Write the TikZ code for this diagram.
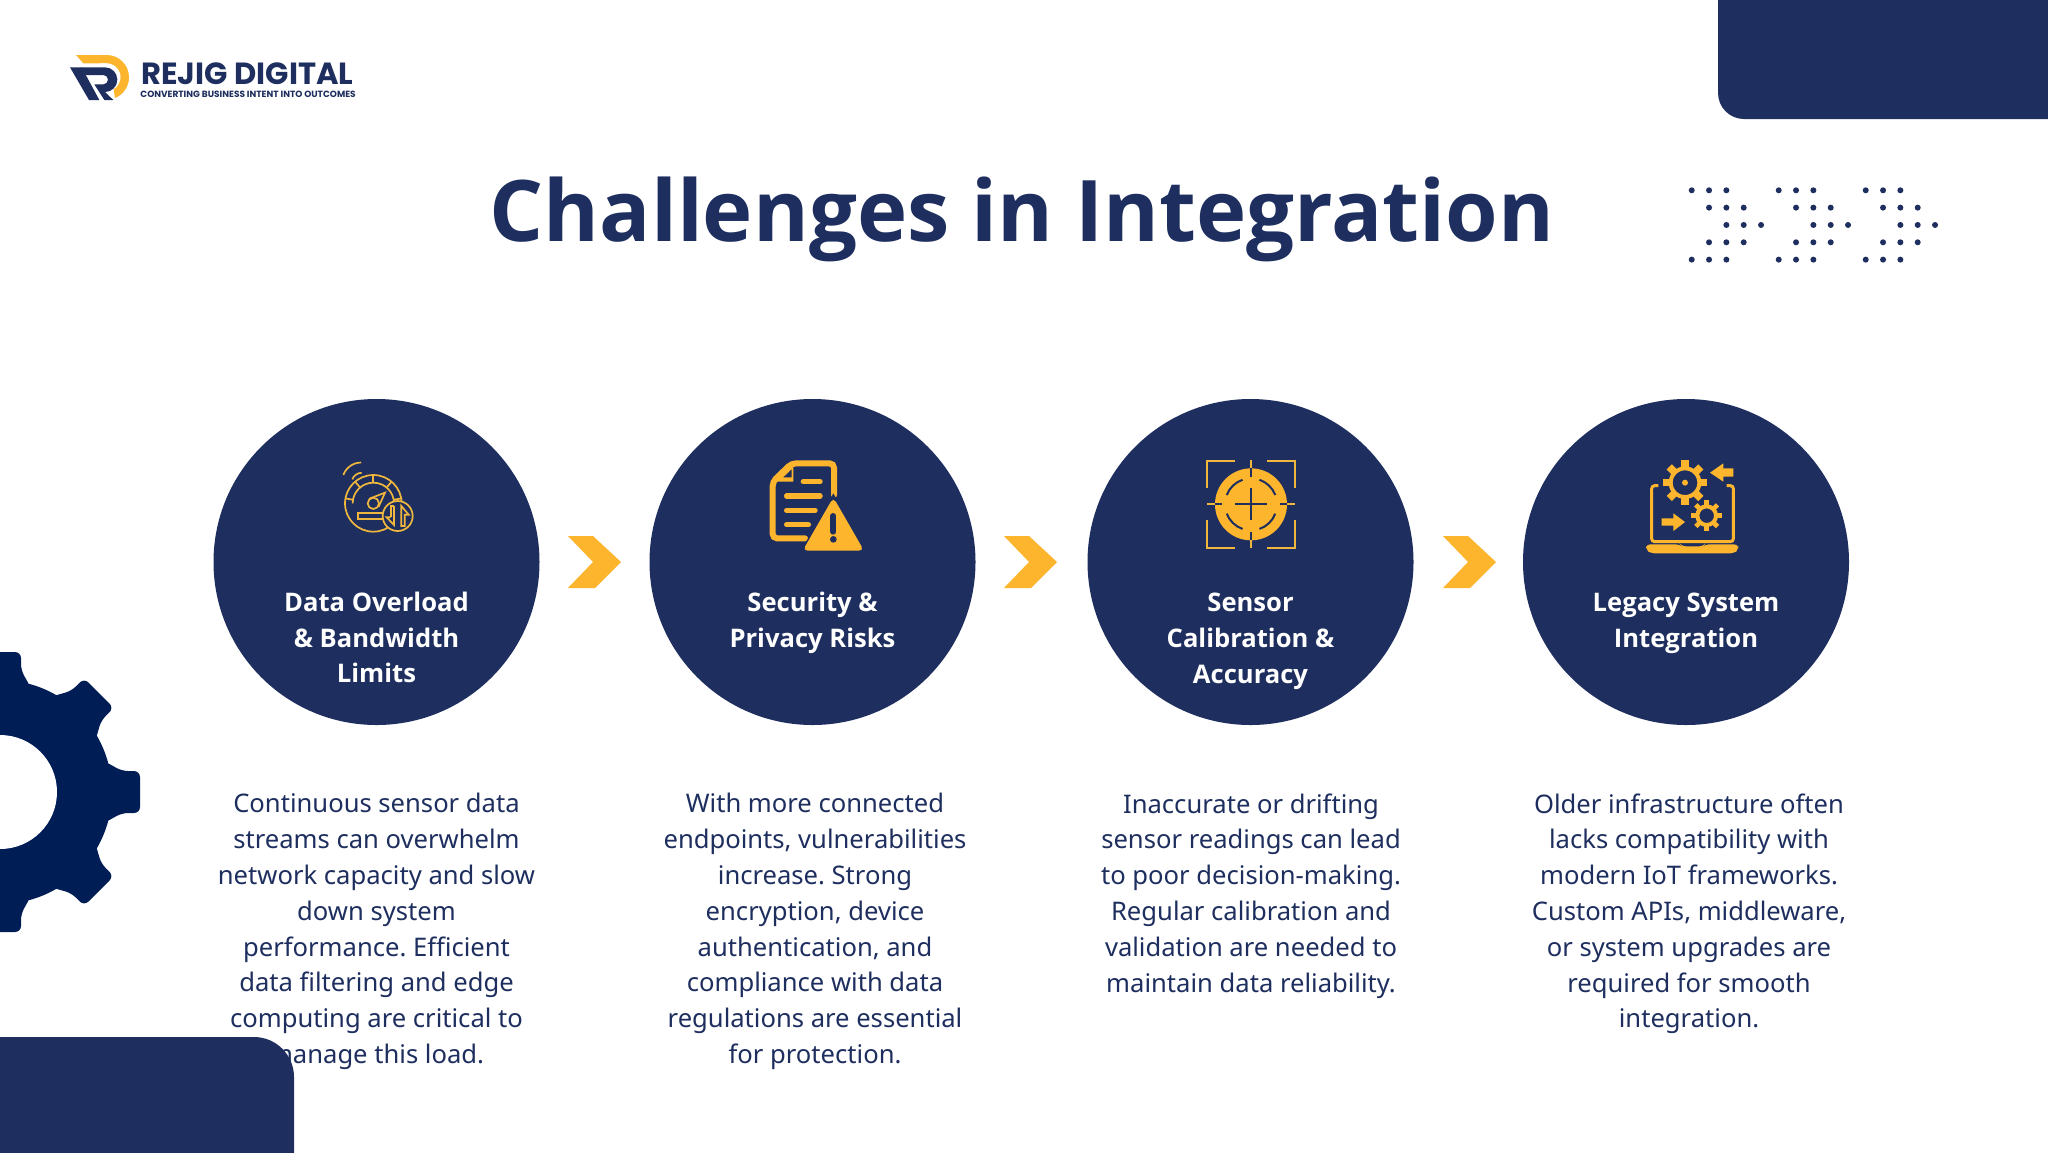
\documentclass[tikz,border=0pt]{standalone}
\usepackage{fontspec}
\setmainfont{Noto Sans}
\newfontfamily\nsbold{Open Sans}
\newfontfamily\logofont{Poppins}
\definecolor{navy}{HTML}{1E2F5F}
\definecolor{geartone}{HTML}{011D55}
\definecolor{gold}{HTML}{FDB52E}
\definecolor{thingold}{HTML}{EFB73E}
\tikzset{
 bodytext/.style={anchor=north,inner sep=0pt,align=center,text=navy,font=\frenchspacing\fontsize{12.8}{17.9}\selectfont},
 headtext/.style={anchor=north,inner sep=0pt,align=center,text=white,font=\nsbold\bfseries\fontsize{12.8}{17.9}\selectfont},
 bigdisc/.style={circle,fill=navy,minimum size=163pt,inner sep=0pt},
 chev/.style={fill=gold},
 dotmark/.style={fill=navy},
 icon/.style={x=0.16667pt,y=-0.16667pt},
}
\newcommand{\chevronAt}[1]{\fill[chev,shift={(#1,0)}] (568,536)--(593,536)--(621,562)--(595,588)--(568,588)--(593,562)--cycle;}
\newcommand{\dotgroup}[1]{%
 \foreach \r/\c in {0/0,0/1,0/2,1/1,1/2,1/3,2/2,2/3,2/4,3/1,3/2,3/3,4/0,4/1,4/2}
  \fill[dotmark] ({1691.7+#1+17.33*\c},{190.3+17.33*\r}) circle[radius=3];}
\newcommand{\gearshape}[6]{% cx cy ring-outer tip halfw number of teeth
 \foreach \a in {0,#6,...,359}{
  \fill[gold,shift={(#1,#2)},rotate=\a] (-#5,#3-3) -- (-#5,#4) -- (#5,#4) -- (#5,#3-3) -- cycle;}
}
\begin{document}
\begin{tikzpicture}[x=0.5pt,y=-0.5pt]
\useasboundingbox (0,0) rectangle (2048,1152);
\fill[white] (0,0) rectangle (2048,1152);
\begin{scope}
\clip (0,0) rectangle (2048,1152);
% gear
\begin{scope}[shift={(0,792)}]
 \fill[geartone] (0,0) circle[radius=112];
 \foreach \a in {0,45,...,315}
  \fill[geartone,rotate=\a,rounded corners=3pt] (104,-31) -- (122,-21) -- (140,-21) -- (140,21) -- (122,21) -- (104,31) -- cycle;
 \fill[white] (0,0) circle[radius=57];
\end{scope}
% top right block
\fill[navy] (2060,-10) -- (1718,-10) -- (1718,93) arc[start angle=180,end angle=90,radius=26] -- (2060,119) -- cycle;
\end{scope}
% logo
\begin{scope}[shift={(65,50)},icon]
 \fill[gold] (33,15) -- (125,15) arc[start angle=-90,end angle=68,radius=67] -- (146,118) arc[start angle=60,end angle=-90,radius=42] -- (55,40) -- cycle;
 \fill[navy] (15,52) -- (50,52) -- (103,150) -- (72,150) -- cycle;
 \fill[navy] (48,52) -- (120,52) arc[start angle=-90,end angle=90,radius=37] -- (145,150) -- (118,150) -- (88,103) -- (115,103) arc[start angle=90,end angle=-90,radius=14] -- (62,75) -- cycle;
\end{scope}
\node[inner sep=0pt,anchor=base west,text=navy] (brand) at (141,84) {\logofont\bfseries\fontsize{15.3}{16}\selectfont REJIG DIGITAL};
\node[inner sep=0pt,anchor=base west,text=navy] (tagline) at (140,97.5) {\logofont\bfseries\fontsize{4.5}{6}\selectfont CONVERTING BUSINESS INTENT INTO OUTCOMES};
% title
\node[inner sep=0pt,text=navy] (title) at (1022,219.5) {\nsbold\bfseries\fontsize{42.5}{50}\selectfont Challenges in Integration};
% dots
\dotgroup{0}\dotgroup{87}\dotgroup{174}
% discs
\node[bigdisc] (c1) at (376.5,562) {};
\node[bigdisc] (c2) at (812.5,562) {};
\node[bigdisc] (c3) at (1250.5,562) {};
\node[bigdisc] (c4) at (1686,562) {};
% chevrons
\chevronAt{0}\chevronAt{436}\chevronAt{875}
% head labels
\node[headtext] (h1) at (376.5,591.5) {Data Overload\\\& Bandwidth\\Limits};
\node[headtext] (h2) at (812.5,591.5) {Security \&\\Privacy Risks};
\node[headtext] (h3) at (1250.5,592.8) {Sensor\\Calibration \&\\Accuracy};
\node[headtext] (h4) at (1686,592.8) {Legacy System\\Integration};
% body
\node[bodytext] (b1) at (376.5,793) {Continuous sensor data\\streams can overwhelm\\network capacity and slow\\down system\\performance. Efficient\\data filtering and edge\\computing are critical to\\manage this load.};
\node[bodytext] (b2) at (815,793) {With more connected\\endpoints, vulnerabilities\\increase. Strong\\encryption, device\\authentication, and\\compliance with data\\regulations are essential\\for protection.};
\node[bodytext] (b3) at (1251,793) {Inaccurate or drifting\\sensor readings can lead\\to poor decision-making.\\Regular calibration and\\validation are needed to\\maintain data reliability.};
\node[bodytext] (b4) at (1689,793) {Older infrastructure often\\lacks compatibility with\\modern IoT frameworks.\\Custom APIs, middleware,\\or system upgrades are\\required for smooth\\integration.};
% bottom left block on top of text
\fill[navy] (-10,1037) -- (254,1037) arc[start angle=-90,end angle=0,radius=40] -- (294,1162) -- (-10,1162) -- cycle;
% icon 1
\begin{scope}[shift={(320,440)},icon,draw=thingold,line width=0.85pt]
 \draw (70,105) arc[start angle=200,end angle=270,radius=57];
 \draw (97,118) arc[start angle=200,end angle=270,radius=30];
 \draw (160,190) circle[radius=85];
 \draw (98,190) arc[start angle=180,end angle=360,radius=62];
 \foreach \a in {190,230,270,310,350}
  \draw (160,190) ++(\a:62) -- ++(\a:23);
 \draw (160,190) circle[radius=17];
 \draw (148,176) -- (195,158) -- (176,200);
 \draw (115,220) rectangle (190,238);
 \fill[navy] (233,228) circle[radius=45];
 \draw (233,228) circle[radius=45];
 \draw[line join=miter] (222,198) -- (222,255) -- (200,232) -- (212,232);
 \draw[line join=miter] (212,232) -- (212,198) -- (222,198);
 \draw[line join=miter] (244,258) -- (244,198) -- (266,224) -- (254,224) -- (254,258) -- cycle;
\end{scope}
% icon 2
\begin{scope}[shift={(750,440)},icon]
 \draw[gold,line width=3pt,rounded corners=2.2pt,line cap=round] (165,295) -- (68,295) -- (68,125) -- (125,70) -- (252,70) -- (252,165);
 \fill[gold] (130,70) -- (130,125) -- (68,125) -- cycle;
 \fill[navy] (125,88) -- (125,112) -- (100,112) -- cycle;
 \foreach \p/\q/\yy in {160/210/125,110/210/168,110/195/211,110/175/254}
  \draw[gold,line width=2.7pt,line cap=round] (\p,\yy) -- (\q,\yy);
 \fill[navy] (250,160) -- (350,338) -- (150,338) -- cycle;
 \fill[gold,rounded corners=2.5pt] (250,172) -- (342,332) -- (158,332) -- cycle;
 \draw[navy,line width=3pt,line cap=round] (250,228) -- (250,275);
 \fill[navy] (250,298) circle[radius=10];
\end{scope}
% icon 3
\begin{scope}[shift={(1190,445)},icon]
 \fill[gold] (183,178) circle[radius=108];
 \foreach \pth in {{(135,48)--(52,48)--(52,130)},{(232,48)--(315,48)--(315,130)},{(52,225)--(52,308)--(135,308)},{(232,308)--(315,308)--(315,225)},{(183,45)--(183,70)},{(183,285)--(183,310)},{(52,178)--(75,178)},{(292,178)--(315,178)}}
  \draw[thingold,line width=1pt] \pth;
 \foreach \pth in {{(75,178)--(97,178)},{(270,178)--(292,178)},{(183,70)--(183,95)},{(183,262)--(183,285)},{(135,178)--(232,178)},{(183,130)--(183,226)}}
  \draw[navy,line width=1pt] \pth;
 \foreach \st in {21,109,201,289}
  \draw[navy,line width=1pt] (183,178) ++(\st:78) arc[start angle=\st,delta angle=50,radius=78];
\end{scope}
% icon 4
\begin{scope}[shift={(1630,445)},icon]
 \draw[gold,line width=1.5pt,rounded corners=1.5pt] (85,122) -- (65,122) -- (65,290) -- (310,290) -- (310,122) -- (290,122);
 \fill[gold,rounded corners=2pt] (48,298) -- (150,298) -- (155,304) -- (220,304) -- (225,298) -- (325,298) -- (325,314) -- (312,325) -- (62,325) -- (48,314) -- cycle;
 \gearshape{165}{113}{46}{67}{11}{45}
 \draw[gold,line width=2pt] (165,113) circle[radius=43];
 \fill[gold] (165,113) circle[radius=9];
 \gearshape{230}{212}{30}{46}{7}{45}
 \draw[gold,line width=2pt] (230,212) circle[radius=28];
 \fill[gold] (310,70) -- (280,70) -- (280,55) -- (240,83) -- (280,110) -- (280,95) -- (310,95) -- cycle;
 \fill[gold] (95,220) -- (130,220) -- (130,205) -- (165,231) -- (130,258) -- (130,242) -- (95,242) -- cycle;
\end{scope}
\end{tikzpicture}
\end{document}
